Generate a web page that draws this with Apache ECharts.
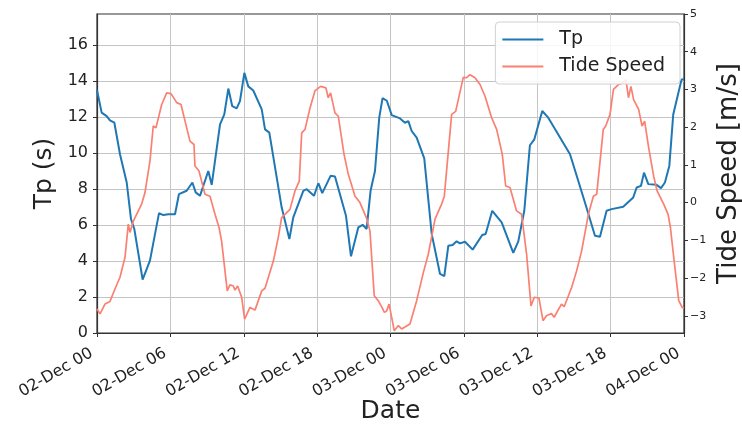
<!DOCTYPE html>
<html>
<head>
<meta charset="utf-8">
<script src="https://cdn.jsdelivr.net/npm/echarts@6/dist/echarts.min.js"></script>
<style>
  html, body { margin: 0; padding: 0; background: #fff; }
  #chart { width: 742px; height: 425px; }
</style>
</head>
<body>
<div id="chart"></div>
<script>
// Hours since 02-Dec 00:00
const xTickLabels = ['02-Dec 00', '02-Dec 06', '02-Dec 12', '02-Dec 18', '03-Dec 00',
                     '03-Dec 06', '03-Dec 12', '03-Dec 18', '04-Dec 00'];
const tpTicks = [0, 2, 4, 6, 8, 10, 12, 14, 16];
const tideTicks = [-3, -2, -1, 0, 1, 2, 3, 4, 5];

// Peak wave period (s)
const tpHours = [0, 0.38, 0.79, 1.06, 1.42, 1.88, 2.43, 2.78, 3.05, 3.73, 4.33, 5.07, 5.42, 5.83,
  6.38, 6.7, 7.33, 7.8, 8.07, 8.42, 9.1, 9.38, 10.06, 10.41, 10.74, 11.06, 11.42, 11.69, 12.05,
  12.37, 12.78, 13.47, 13.74, 14.09, 15.1, 15.73, 16.05, 16.87, 17.15, 17.74, 18.1, 18.42, 19.1,
  19.46, 20.36, 20.77, 21.37, 21.72, 22.05, 22.37, 22.73, 23.08, 23.35, 23.7, 24.1, 24.78, 25.18,
  25.46, 25.73, 26.14, 26.76, 27.37, 28.05, 28.4, 28.73, 29.08, 29.41, 29.68, 30.09, 30.72, 31.5,
  31.78, 32.32, 33.09, 34.04, 34.45, 34.94, 35.4, 35.76, 36.41, 36.9, 38.68, 39.9, 40.72, 41.13,
  41.67, 42.08, 43.03, 43.85, 44.13, 44.48, 44.73, 45.08, 45.76, 46.12, 46.44, 46.8, 47.12, 47.8, 48];
const tpValues = [13.5, 12.24, 12.05, 11.81, 11.68, 9.93, 8.36, 6.33, 5.78, 2.97, 4.02, 6.66, 6.55, 6.6,
  6.6, 7.71, 7.9, 8.36, 7.81, 7.62, 9.0, 8.23, 11.59, 12.14, 13.58, 12.6, 12.48, 12.88, 14.45,
  13.7, 13.47, 12.42, 11.31, 11.13, 6.98, 5.22, 6.42, 7.9, 7.99, 7.62, 8.32, 7.77, 8.73,
  8.69, 6.51, 4.26, 5.87, 6.01, 5.78, 7.9, 9.0, 11.96, 13.05, 12.9, 12.1, 11.92, 11.68,
  11.77, 11.22, 10.85, 9.7, 5.5, 3.28, 3.16, 4.85, 4.89, 5.09, 4.98, 5.07, 4.63, 5.44,
  5.5, 6.79, 6.15, 4.45, 5.09, 6.79, 10.43, 10.76, 12.33, 11.96, 9.93, 7.25, 5.4, 5.35,
  6.79, 6.88, 7.01, 7.53, 8.08, 8.17, 8.91, 8.27, 8.23, 8.05, 8.36, 9.28, 12.14, 14.08, 14.1];

// Tidal current speed (m/s)
const tideHours = [0, 0.25, 0.65, 1.06, 1.47, 1.88, 2.29, 2.56, 2.7, 2.97, 3.65, 3.92, 4.33, 4.6, 4.82,
  5.29, 5.7, 6.05, 6.52, 6.87, 7.2, 7.6, 7.93, 8.01, 8.34, 8.83, 9.24, 9.65, 9.98, 10.19, 10.65,
  10.87, 11.15, 11.28, 11.5, 11.83, 12.07, 12.51, 12.92, 13.47, 13.74, 14.42, 14.82, 15.1, 15.78,
  16.19, 16.54, 16.74, 17.01, 17.42, 17.83, 18.29, 18.72, 18.91, 19.1, 19.46, 19.73, 20.2, 20.55,
  21.1, 21.5, 22.05, 22.32, 22.67, 23.0, 23.27, 23.5, 23.69, 23.88, 24.04, 24.31, 24.64, 24.91,
  25.59, 26.14, 26.69, 27.09, 27.64, 28.18, 28.4, 29.0, 29.33, 29.95, 30.23, 30.5, 30.91, 31.32,
  31.73, 32.27, 32.68, 33.14, 33.42, 33.77, 34.31, 34.72, 35.13, 35.49, 35.76, 36.14, 36.47, 36.75,
  37.16, 37.38, 37.98, 38.2, 38.81, 39.22, 39.63, 40.18, 40.59, 40.86, 41.4, 41.6, 41.95, 42.23,
  42.64, 42.97, 43.25, 43.46, 43.66, 43.88, 44.29, 44.57, 44.78, 45.11, 45.52, 45.8, 46.34, 46.7,
  46.89, 47.16, 47.57, 47.85, 48];
const tideValues = [-2.82, -2.95, -2.69, -2.62, -2.29, -1.98, -1.45, -0.57, -0.79, -0.49, -0.04, 0.26, 1.1, 2.03, 1.98,
  2.6, 2.91, 2.89, 2.65, 2.6, 2.16, 1.63, 1.54, 0.97, 0.84, 0.22, 0.17, -0.31, -0.66, -1.02, -2.34,
  -2.18, -2.21, -2.32, -2.21, -2.51, -3.09, -2.78, -2.85, -2.34, -2.27, -1.55, -0.93, -0.40, -0.18,
  0.31, 0.57, 1.85, 1.94, 2.51, 2.97, 3.08, 3.04, 2.78, 2.91, 2.38, 2.29, 1.28, 0.75,
  0.17, 0.0, -0.42, -0.75, -2.47, -2.6, -2.76, -2.91, -2.87, -2.69, -2.95, -3.40, -3.26, -3.35,
  -3.22, -2.60, -1.85, -1.37, -0.44, -0.04, 0.17, 2.34, 2.42, 3.32, 3.31, 3.39, 3.31, 3.13,
  2.82, 2.25, 1.94, 1.28, 0.44, 0.40, -0.22, -0.31, -1.37, -2.74, -2.51, -2.53, -3.13, -3.0,
  -2.94, -3.04, -2.69, -2.76, -2.25, -1.81, -1.28, -0.31, 0.17, 0.22, 1.94, 2.03, 2.34, 3.0,
  3.13, 3.17, 3.26, 2.78, 3.08, 2.73, 2.47, 2.03, 2.16, 1.46, 0.70, 0.31, -0.04, -0.31,
  -0.66, -1.45, -2.6, -2.78, -2.8];

const zip = (xs, ys) => xs.map((x, i) => [x, ys[i]]);

const FONT = 'DejaVu Sans';
const TEXT = '#222';
const AXIS = '#333';
const GRID = '#c4c4c4';

const chart = echarts.init(document.getElementById('chart'), null, { renderer: 'canvas' });
chart.setOption({
  animation: false,
  backgroundColor: '#fff',
  textStyle: { fontFamily: FONT },
  grid: {
    left: 97, right: 58, top: 14, bottom: 92,
    containLabel: false, outerBoundsMode: 'none',
    show: true, borderColor: AXIS, borderWidth: 1.2, backgroundColor: 'transparent'
  },
  legend: {
    orient: 'vertical',
    right: 62, top: 22,
    icon: 'rect',
    itemWidth: 41, itemHeight: 2, itemGap: 8,
    padding: [8, 15, 8, 7],
    backgroundColor: 'rgba(255,255,255,0.85)',
    borderColor: '#d0d0d0', borderWidth: 1, borderRadius: 4,
    textStyle: { fontFamily: FONT, fontSize: 19, lineHeight: 19, color: TEXT, padding: [0, 0, 0, 11] },
    data: ['Tp', 'Tide Speed']
  },
  xAxis: {
    type: 'value', min: 0, max: 48, interval: 6,
    name: 'Date', nameLocation: 'middle', nameGap: 66, nameMoveOverlap: false,
    nameTextStyle: { fontFamily: FONT, fontSize: 25, color: TEXT },
    axisLine: { show: true, lineStyle: { color: AXIS, width: 1.2 } },
    axisTick: { show: true, length: 4, lineStyle: { color: AXIS } },
    axisLabel: {
      rotate: 30, fontFamily: FONT, fontSize: 16, color: TEXT, margin: 16,
      padding: [0, 6, 0, 0],
      formatter: v => xTickLabels[Math.round(v / 6)]
    },
    splitLine: { show: true, lineStyle: { color: GRID, width: 1 } }
  },
  yAxis: [
    {
      type: 'value', min: 0, max: 17.72, interval: 2, position: 'left',
      name: 'Tp (s)', nameLocation: 'middle', nameGap: 40, nameMoveOverlap: false,
      nameTextStyle: { fontFamily: FONT, fontSize: 25, color: TEXT },
      axisLine: { show: true, lineStyle: { color: AXIS, width: 1.2 } },
      axisTick: { show: true, length: 4, lineStyle: { color: AXIS }, customValues: tpTicks },
      axisLabel: { fontFamily: FONT, fontSize: 16, color: TEXT, margin: 9, customValues: tpTicks },
      splitLine: { show: true, lineStyle: { color: GRID, width: 1 } }
    },
    {
      type: 'value', min: -3.457, max: 5, position: 'right',
      name: 'Tide Speed [m/s]', nameLocation: 'middle', nameGap: 32, nameMoveOverlap: false,
      nameTextStyle: { fontFamily: FONT, fontSize: 26, color: TEXT },
      axisLine: { show: true, lineStyle: { color: AXIS, width: 1.2 } },
      axisTick: { show: true, length: 4, lineStyle: { color: AXIS }, customValues: tideTicks },
      axisLabel: {
        fontFamily: FONT, fontSize: 11, color: TEXT, margin: 6, customValues: tideTicks,
        formatter: v => (v < 0 ? '\u2212' + Math.abs(v) : String(v))
      },
      splitLine: { show: false }
    }
  ],
  series: [
    {
      name: 'Tp', type: 'line', yAxisIndex: 0,
      data: zip(tpHours, tpValues),
      symbol: 'none', color: '#1f77b4',
      lineStyle: { width: 2, color: '#1f77b4' }
    },
    {
      name: 'Tide Speed', type: 'line', yAxisIndex: 1,
      data: zip(tideHours, tideValues),
      symbol: 'none', color: '#fa8072',
      lineStyle: { width: 1.7, color: '#fa8072' }
    }
  ]
});
</script>
</body>
</html>
